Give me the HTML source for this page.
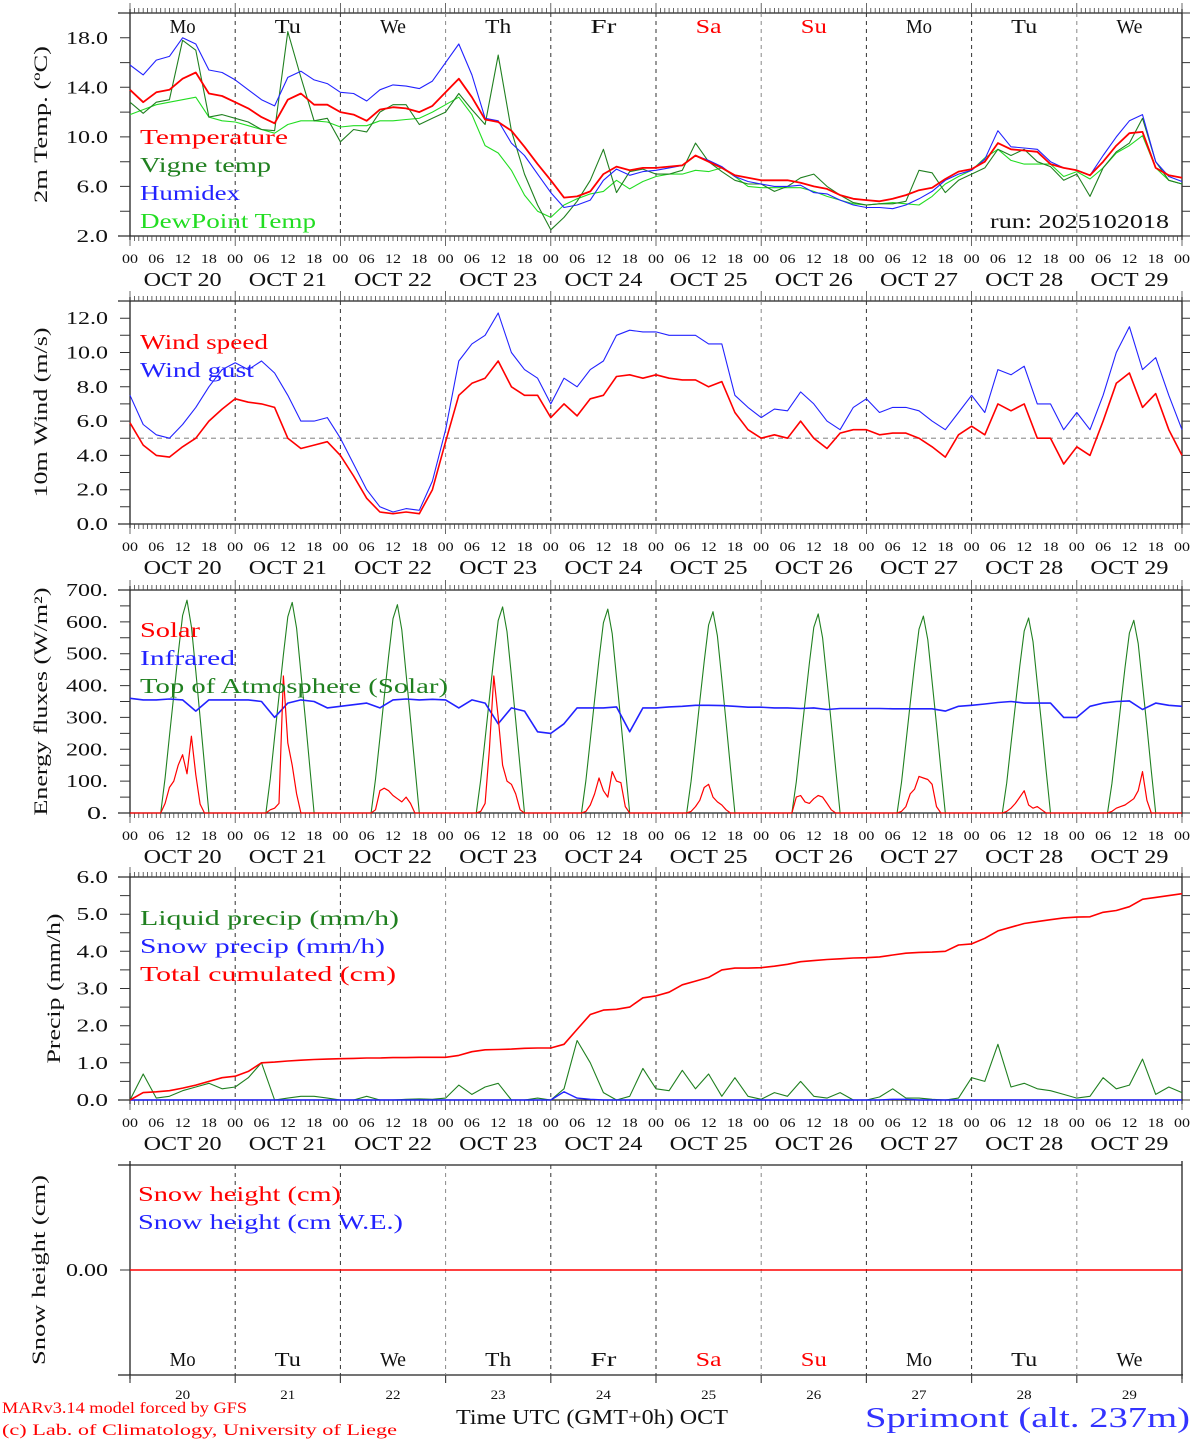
<!DOCTYPE html>
<html><head><meta charset="utf-8"><title>MAR meteogram Sprimont</title>
<style>
html,body{margin:0;padding:0;background:#fff;}
svg{display:block;font-family:"Liberation Serif",serif;}
</style></head>
<body>
<svg id="chart" width="1194" height="1440" viewBox="0 0 1194 1440" xmlns="http://www.w3.org/2000/svg"></svg>
<script>
// ---------- data (3-hourly, 00Z Oct 20 .. 00Z Oct 30) ----------
const days = ["20","21","22","23","24","25","26","27","28","29"];
const weekdays = ["Mo","Tu","We","Th","Fr","Sa","Su","Mo","Tu","We"];
const hourTicks = ["00","06","12","18"];
const tempTicks = ["2.0","6.0","10.0","14.0","18.0"];
const windTicks = ["0.0","2.0","4.0","6.0","8.0","10.0","12.0"];
const fluxTicks = ["0.","100.","200.","300.","400.","500.","600.","700."];
const precipTicks = ["0.0","1.0","2.0","3.0","4.0","5.0","6.0"];

const temperature = [13.8,12.8,13.6,13.8,14.7,15.2,13.5,13.3, 12.8,12.3,11.6,11.1,13.0,13.5,12.6,12.6, 12.0,11.8,11.3,12.2,12.4,12.3,12.0,12.5, 13.6,14.7,13.2,11.4,11.2,10.5,9.2,7.8, 6.5,5.1,5.2,5.6,7.0,7.6,7.3,7.5, 7.5,7.6,7.7,8.5,8.0,7.5,6.9,6.7, 6.5,6.5,6.5,6.3,6.0,5.8,5.3,5.0, 4.9,4.8,5.0,5.3,5.7,5.9,6.6,7.2, 7.4,8.0,9.5,9.0,8.9,8.8,7.8,7.5, 7.3,6.9,8.0,9.3,10.3,10.4,7.5,6.9,6.7];
const vigneTemp = [12.8,11.9,12.8,13.0,17.8,17.0,11.6,11.8, 11.5,11.2,10.6,10.5,18.5,14.8,11.3,11.5, 9.6,10.6,10.4,12.0,12.6,12.6,11.0,11.5, 12.0,13.5,12.2,11.0,16.6,10.5,7.0,4.5, 2.5,3.5,4.8,6.5,9.0,5.5,7.2,7.4, 7.0,7.0,7.3,9.5,8.0,7.2,6.5,6.2, 6.2,5.6,6.0,6.7,7.0,6.0,5.3,4.7, 4.5,4.6,4.6,4.8,7.3,7.1,5.5,6.5, 7.0,7.5,9.0,8.5,9.0,8.0,7.6,6.5, 7.0,5.2,7.5,8.8,9.5,11.5,8.0,6.5,6.2];
const humidex = [15.8,15.0,16.2,16.5,18.0,17.5,15.4,15.2, 14.6,13.8,13.0,12.5,14.8,15.3,14.6,14.3, 13.6,13.5,12.9,13.8,14.2,14.1,13.9,14.5, 16.0,17.5,15.0,11.5,11.3,9.5,8.5,7.0, 5.5,4.3,4.5,4.9,6.5,7.4,6.9,7.2, 7.3,7.5,7.7,8.5,8.1,7.6,6.8,6.4, 6.2,6.0,6.0,6.1,5.5,5.4,4.9,4.5, 4.3,4.3,4.2,4.5,5.0,5.6,6.5,7.0, 7.3,8.2,10.5,9.2,9.1,9.0,8.0,7.5, 7.3,6.9,8.5,10.0,11.3,11.8,8.0,6.8,6.4];
const dewPoint = [11.8,12.2,12.6,12.8,13.0,13.2,11.6,11.3, 11.2,10.9,10.6,10.3,11.0,11.3,11.3,11.2, 10.8,10.9,10.9,11.3,11.3,11.4,11.5,12.0, 12.6,13.2,11.8,9.3,8.7,7.3,5.3,4.0, 3.5,4.5,5.0,5.4,5.6,6.5,5.8,6.4, 6.8,7.0,7.0,7.3,7.2,7.5,6.8,6.0, 5.9,5.9,5.9,5.9,5.6,5.2,4.9,4.6, 4.5,4.6,4.7,4.6,4.5,5.2,6.2,6.8, 7.3,8.3,9.0,8.1,7.8,7.8,7.8,6.8, 7.2,6.6,7.5,8.7,9.3,10.1,7.5,6.5,6.2];

const windSpeed = [5.9,4.6,4.0,3.9,4.5,5.0,6.0,6.7, 7.3,7.1,7.0,6.8,5.0,4.4,4.6,4.8, 4.0,2.8,1.5,0.7,0.6,0.7,0.6,2.0, 4.8,7.5,8.2,8.5,9.5,8.0,7.5,7.5, 6.2,7.0,6.3,7.3,7.5,8.6,8.7,8.5, 8.7,8.5,8.4,8.4,8.0,8.3,6.5,5.5, 5.0,5.2,5.0,6.0,5.0,4.4,5.3,5.5, 5.5,5.2,5.3,5.3,5.0,4.5,3.9,5.2, 5.7,5.2,7.0,6.6,7.0,5.0,5.0,3.5, 4.5,4.0,6.0,8.2,8.8,6.8,7.6,5.5,4.0];
const windGust = [7.5,5.8,5.2,5.0,5.8,6.8,8.0,9.0, 9.4,9.0,9.5,8.8,7.5,6.0,6.0,6.2, 5.0,3.5,2.0,1.0,0.7,0.9,0.8,2.5, 5.5,9.5,10.5,11.0,12.3,10.0,9.0,8.5, 7.0,8.5,8.0,9.0,9.5,11.0,11.3,11.2, 11.2,11.0,11.0,11.0,10.5,10.5,7.5,6.8, 6.2,6.7,6.6,7.7,7.0,6.0,5.5,6.8, 7.3,6.5,6.8,6.8,6.6,6.0,5.5,6.5, 7.5,6.5,9.0,8.7,9.2,7.0,7.0,5.5, 6.5,5.5,7.5,10.0,11.5,9.0,9.7,7.5,5.5];

const infrared = [360,355,355,358,355,320,355,355, 355,355,350,300,345,355,350,330, 335,340,345,330,355,358,355,357, 355,330,355,345,280,330,320,255, 250,280,330,330,330,333,255,330, 330,333,335,338,338,337,335,332, 332,330,330,328,330,325,328,328, 328,328,327,327,327,327,320,335, 338,342,347,350,345,345,345,300, 300,335,345,350,352,325,345,338,335];
// hourly daytime values 07h..18h for each day
const toaByDay = [
 [0,110,240,370,500,620,668,585,445,300,150,0],
 [0,108,238,367,497,616,661,580,440,297,148,0],
 [0,106,235,363,492,610,654,575,436,294,146,0],
 [0,104,232,359,487,604,647,569,431,291,144,0],
 [0,102,229,355,482,597,640,563,426,287,142,0],
 [0,100,226,351,476,590,632,556,421,284,140,0],
 [0,98,223,347,471,583,625,550,416,281,138,0],
 [0,96,220,343,466,577,618,544,412,278,136,0],
 [0,94,217,339,461,571,612,538,407,275,134,0],
 [0,92,214,335,456,565,605,532,403,272,132,0]];
const solarByDay = [
 [0,30,80,100,150,183,123,241,120,28,0,0],
 [0,10,15,30,430,220,150,60,0,0,0,0],
 [0,10,70,78,70,55,45,35,50,30,0,0],
 [0,5,30,200,430,300,150,100,90,60,10,0],
 [0,5,25,60,110,70,50,130,100,95,20,0],
 [0,5,20,40,80,90,50,35,25,10,0,0],
 [0,50,55,35,30,45,55,50,30,10,0,0],
 [0,5,20,60,75,115,110,105,90,20,0,0],
 [0,5,15,30,50,70,25,15,20,10,0,0],
 [0,5,15,20,25,35,45,70,130,40,0,0]];

const liquidPrecip = [0,0.7,0.05,0.1,0.25,0.35,0.45,0.3, 0.35,0.6,1.0,0,0.05,0.1,0.1,0.05, 0,0,0.1,0,0,0.02,0.03,0.02, 0.05,0.4,0.15,0.35,0.45,0,0,0.05, 0,0.3,1.6,1.0,0.2,0,0.1,0.85, 0.3,0.25,0.8,0.3,0.7,0.1,0.6,0.1, 0.02,0.2,0.1,0.5,0.1,0.05,0.2,0, 0,0.08,0.3,0.05,0.05,0.02,0,0.05, 0.6,0.5,1.5,0.35,0.45,0.3,0.25,0.15, 0.05,0.1,0.6,0.3,0.4,1.1,0.15,0.35,0.2];
const snowPrecip = [0,0,0,0,0,0,0,0, 0,0,0,0,0,0,0,0, 0,0,0,0,0,0,0,0, 0,0,0,0,0,0,0,0, 0,0.22,0.05,0.02,0,0,0,0, 0,0,0,0,0,0,0,0, 0,0,0,0,0,0,0,0, 0,0,0.02,0.02,0,0,0,0, 0,0,0,0,0,0,0,0, 0,0,0,0,0,0,0,0,0];
const totalCumul = [0,0.2,0.22,0.25,0.32,0.4,0.5,0.6, 0.64,0.77,1.0,1.02,1.05,1.07,1.09,1.1, 1.11,1.12,1.13,1.13,1.14,1.14,1.15,1.15, 1.15,1.2,1.3,1.35,1.36,1.37,1.39,1.4, 1.4,1.5,1.9,2.3,2.42,2.44,2.5,2.75, 2.8,2.9,3.1,3.2,3.3,3.5,3.55,3.55, 3.56,3.6,3.65,3.72,3.75,3.78,3.8,3.82, 3.83,3.85,3.9,3.95,3.97,3.98,4.0,4.17, 4.2,4.35,4.55,4.65,4.75,4.8,4.85,4.9, 4.92,4.93,5.05,5.1,5.2,5.4,5.45,5.5,5.55];
const snowHeight = [0,0];

// ---------- helpers ----------
const NS = "http://www.w3.org/2000/svg";
const svg = document.getElementById("chart");
const X0 = 130, X1 = 1182;
function xh(h){ return X0 + h*(X1-X0)/240; }
function mk(tag, attrs, parent){
  const e = document.createElementNS(NS, tag);
  for (const k in attrs) e.setAttribute(k, attrs[k]);
  (parent||svg).appendChild(e);
  return e;
}
function txt(s, x, y, size, fill, anchor, len, parent){
  const t = mk("text", {x:x, y:y, "font-size":size, fill:fill||"#000", "text-anchor":anchor||"start"}, parent);
  if (len){ t.setAttribute("textLength", len); t.setAttribute("lengthAdjust","spacingAndGlyphs"); }
  t.textContent = s;
  return t;
}
function scaleY(v, vmin, vmax, ybot, ytop){ return ybot - (v-vmin)*(ybot-ytop)/(vmax-vmin); }

function panel(name, top, bot, vmin, vmax, tickStep, labels, labelVals, title, titleX, opts){
  const g = mk("g", {});
  
  
  const fy = v => scaleY(v, vmin, vmax, bot, top);
  mk("line",{x1:118,y1:top,x2:X1,y2:top,stroke:"#222","stroke-width":1.3},g);
  mk("line",{x1:118,y1:bot,x2:X1+1,y2:bot,stroke:"#222","stroke-width":1.3},g);
  mk("line",{x1:X0,y1:top-4,x2:X0,y2:bot+4,stroke:"#222","stroke-width":1.3},g);
  mk("line",{x1:X1,y1:top-4,x2:X1,y2:bot+4,stroke:"#222","stroke-width":1.3},g);
  for (let d=1; d<10; d++){
    const l = mk("line",{x1:xh(24*d),y1:top,x2:xh(24*d),y2:bot,stroke:(d%3==0?"#888":"#333"),"stroke-width":1,"stroke-dasharray":"4,4"},g);
    
    
  }
  if (!opts.noHourTicks){
    let dpath = "";
    for (let h=0; h<=240; h++){
      const x = xh(h).toFixed(1);
      const L = (h%24==0)?10:5;
      dpath += `M${x} ${top}v${-L}M${x} ${bot}v${L}`;
    }
    mk("path",{d:dpath,stroke:"#444","stroke-width":0.8,fill:"none"},g);
  } else {
    let dpath = "";
    for (let d=0; d<=10; d++){ const x = xh(24*d).toFixed(1); dpath += `M${x} ${bot}v8`; }
    mk("path",{d:dpath,stroke:"#444","stroke-width":1.2,fill:"none"},g);
  }
  if (tickStep){
    let dpath="";
    for (let v=vmin; v<=vmax+1e-6; v+=tickStep){
      const y = fy(v).toFixed(1);
      dpath += `M${X0} ${y}h-10M${X1} ${y}h8`;
    }
    mk("path",{d:dpath,stroke:"#333","stroke-width":1,fill:"none"},g);
  }
  labels.forEach((s,i)=>{
    const t = txt(s, 108, fy(labelVals[i])+6, 18, "#111", "end", s.length*10.5, g);
    
    
  });
  const tt = mk("text",{x:0,y:0,"font-size":19,fill:"#111","text-anchor":"middle",transform:`translate(${titleX},${(top+bot)/2}) rotate(-90)`},g);
  
  
  tt.setAttribute('textLength', opts.titleLen);
  tt.setAttribute('lengthAdjust','spacingAndGlyphs');
  tt.textContent = title;
  if (!opts.noHourLabels){
    for (let d=0; d<10; d++){
      hourTicks.forEach((s,i)=>{
        const t = txt(s, xh(24*d+6*i), bot+27, 13, "#111", "middle", 16, g);
        
        
      });
      const o = txt("OCT "+days[d], xh(24*d+12), bot+50, 20, "#111", "middle", 78, g);
      
      
    }
    const t = txt("00", xh(240), bot+27, 13, "#111", "middle", 16, g);
    
    
  }
  return {g, fy};
}
function series(g, vals, fy, hoursPer, color, width, name){
  let d = "";
  vals.forEach((v,i)=>{ d += (i?"L":"M") + xh(i*hoursPer).toFixed(1) + " " + fy(v).toFixed(1); });
  const p = mk("path",{d:d,fill:"none",stroke:color,"stroke-width":width,"stroke-linejoin":"round"},g);
  
  
  return p;
}
function daySeries(g, byDay, fy, color, width, name){
  let d = "M" + xh(0) + " " + fy(0);
  byDay.forEach((arr,di)=>{
    arr.forEach((v,i)=>{ d += "L" + xh(24*di+7+i).toFixed(1) + " " + fy(v).toFixed(1); });
  });
  d += "L" + xh(240) + " " + fy(0);
  const p = mk("path",{d:d,fill:"none",stroke:color,"stroke-width":width,"stroke-linejoin":"round"},g);
  
  
  return p;
}
function legend(g, s, x, y, color, len, name){
  const t = txt(s, x, y, 21, color, "start", len, g);
  
  
}

// ---------- panel 1: temperature ----------
let P = panel("temperature-panel", 13, 236, 2, 20, 2, tempTicks, [2,6,10,14,18], "2m Temp. (ºC)", 47, {titleLen:157});
weekdays.forEach((w,d)=>{
  const t = txt(w, xh(24*d+12), 33, 20, (d==5||d==6)?"#f00":"#111", "middle", w.length*13, P.g);
  
  
});
series(P.g, dewPoint, P.fy, 3, "#22dd22", 1.1, "dewpoint-line");
series(P.g, vigneTemp, P.fy, 3, "#208020", 1.1, "vigne-temp-line");
series(P.g, humidex, P.fy, 3, "#2222ff", 1.1, "humidex-line");
series(P.g, temperature, P.fy, 3, "#ff0000", 1.8, "temperature-line");
legend(P.g, "Temperature", 140, 144, "#f00", 148, "legend-temperature");
legend(P.g, "Vigne temp", 140, 172, "#208020", 131, "legend-vigne-temp");
legend(P.g, "Humidex", 140, 200, "#22f", 100, "legend-humidex");
legend(P.g, "DewPoint Temp", 140, 228, "#22dd22", 176, "legend-dewpoint");
{ const t = txt("run: 2025102018", 990, 228, 20, "#111", "start", 179, P.g);
    }

// ---------- panel 2: wind ----------
P = panel("wind-panel", 301, 524, 0, 13, 1, windTicks, [0,2,4,6,8,10,12], "10m Wind (m/s)", 47, {titleLen:170});
{ const l = mk("line",{x1:X0,y1:P.fy(5),x2:X1,y2:P.fy(5),stroke:"#999","stroke-width":1.2,"stroke-dasharray":"5,4"},P.g);
    }
series(P.g, windGust, P.fy, 3, "#2222ff", 1.1, "wind-gust-line");
series(P.g, windSpeed, P.fy, 3, "#ff0000", 1.6, "wind-speed-line");
legend(P.g, "Wind speed", 140, 349, "#f00", 128, "legend-wind-speed");
legend(P.g, "Wind gust", 140, 377, "#22f", 114, "legend-wind-gust");

// ---------- panel 3: energy ----------
P = panel("energy-panel", 590, 813, 0, 700, 50, fluxTicks, [0,100,200,300,400,500,600,700], "Energy fluxes (W/m²)", 47, {titleLen:228});
daySeries(P.g, toaByDay, P.fy, "#208020", 1.1, "toa-solar-line");
series(P.g, infrared, P.fy, 3, "#2222ff", 1.6, "infrared-line");
daySeries(P.g, solarByDay, P.fy, "#ff0000", 1.2, "solar-line");
legend(P.g, "Solar", 140, 637, "#f00", 60, "legend-solar");
legend(P.g, "Infrared", 140, 665, "#22f", 95, "legend-infrared");
legend(P.g, "Top of Atmosphere (Solar)", 140, 693, "#208020", 308, "legend-toa");

// ---------- panel 4: precip ----------
P = panel("precip-panel", 877, 1100, 0, 6, 0.5, precipTicks, [0,1,2,3,4,5,6], "Precip (mm/h)", 60, {titleLen:150});
series(P.g, liquidPrecip, P.fy, 3, "#208020", 1.1, "liquid-precip-line");
series(P.g, snowPrecip, P.fy, 3, "#2222ff", 1.4, "snow-precip-line");
series(P.g, totalCumul, P.fy, 3, "#ff0000", 1.6, "total-cumulated-line");
legend(P.g, "Liquid precip (mm/h)", 140, 925, "#208020", 259, "legend-liquid-precip");
legend(P.g, "Snow precip (mm/h)", 140, 953, "#22f", 245, "legend-snow-precip");
legend(P.g, "Total cumulated (cm)", 140, 981, "#f00", 256, "legend-total-cumulated");

// ---------- panel 5: snow ----------
P = panel("snow-panel", 1165, 1375, -1, 1, 0, ["0.00"], [0], "Snow height (cm)", 45, {titleLen:190, noHourTicks:true, noHourLabels:true});
mk("path",{d:`M${X0} ${P.fy(0)}h-10`,stroke:"#333","stroke-width":1},P.g);
series(P.g, snowHeight, P.fy, 240, "#ff0000", 1.4, "snow-height-line");
legend(P.g, "Snow height (cm)", 138, 1201, "#f00", 203, "legend-snow-height");
legend(P.g, "Snow height (cm W.E.)", 138, 1229, "#22f", 265, "legend-snow-height-we");
weekdays.forEach((w,d)=>{
  const t = txt(w, xh(24*d+12), 1366, 20, (d==5||d==6)?"#f00":"#111", "middle", w.length*13, P.g);
  
  
  const n = txt(days[d], xh(24*d+12), 1399, 13, "#111", "middle", 15, P.g);
  
  
});

// ---------- footer ----------
{ let t = txt("MARv3.14 model forced by GFS", 2, 1413, 16, "#f00", "start", 245);
   
  t = txt("(c) Lab. of Climatology, University of Liege", 2, 1435, 16, "#f00", "start", 395);
   
  t = txt("Time UTC (GMT+0h) OCT", 456, 1424, 21, "#111", "start", 272);
   
  t = txt("Sprimont (alt. 237m)", 865, 1427, 29, "#33f", "start", 325);
    }
</script>
</body></html>
